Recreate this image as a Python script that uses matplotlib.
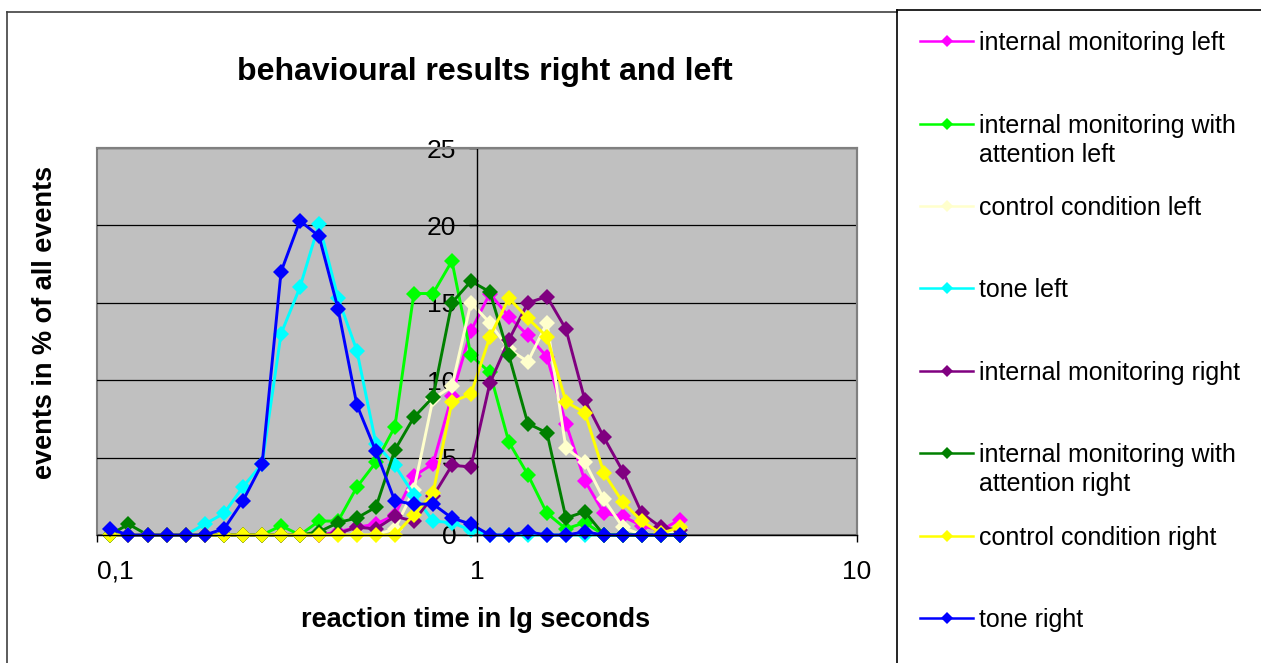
import matplotlib
matplotlib.use("Agg")
import matplotlib.pyplot as plt
from matplotlib.lines import Line2D
from matplotlib.patches import Rectangle
from matplotlib.ticker import NullLocator

plt.rcParams["font.family"] = ["Liberation Sans", "DejaVu Sans"]

W, H = 1261, 663

# reaction time bins (s), log spaced
reaction_time = [0.108, 0.121, 0.136, 0.153, 0.171, 0.192, 0.216, 0.242, 0.272, 0.305,
                 0.342, 0.384, 0.431, 0.483, 0.542, 0.608, 0.682, 0.766, 0.859, 0.964,
                 1.081, 1.213, 1.361, 1.528, 1.714, 1.923, 2.158, 2.421, 2.716, 3.048, 3.420]

im_left = [0, 0, 0, 0, 0, 0, 0, 0, 0, 0,
           0, 0, 0.2, 0.5, 0.7, 1.3, 3.8, 4.6, 9.0, 13.2,
           15.6, 14.1, 12.9, 11.5, 7.2, 3.5, 1.4, 1.2, 0.6, 0.3, 1.0]
ima_left = [0, 0, 0, 0, 0, 0, 0, 0, 0, 0.6,
            0, 0.9, 0.9, 3.1, 4.7, 7.0, 15.6, 15.6, 17.7, 11.6,
            10.5, 6.0, 3.9, 1.4, 0.4, 0.8, 0, 0, 0, 0, 0]
control_left = [0, 0, 0, 0, 0, 0, 0, 0, 0, 0,
                0, 0, 0, 0, 0, 0.4, 2.9, 8.8, 9.6, 15.0,
                13.7, 12.0, 11.2, 13.7, 5.6, 4.7, 2.3, 0.5, 0, 0, 0.4]
tone_left = [0, 0, 0, 0, 0, 0.7, 1.4, 3.1, 4.6, 13.0,
             16.0, 20.1, 15.3, 11.9, 5.9, 4.5, 2.6, 0.9, 0.8, 0.3,
             0, 0, 0, 0, 0, 0, 0, 0, 0, 0, 0]
im_right = [0, 0, 0, 0, 0, 0, 0, 0, 0, 0,
            0, 0, 0.1, 0.5, 0.4, 1.2, 0.9, 2.5, 4.5, 4.4,
            9.8, 12.6, 15.0, 15.4, 13.3, 8.7, 6.3, 4.1, 1.4, 0.5, 0.3]
ima_right = [0, 0.7, 0, 0, 0, 0, 0, 0, 0, 0,
             0, 0.2, 0.8, 1.1, 1.8, 5.5, 7.6, 8.9, 15.0, 16.4,
             15.7, 11.6, 7.2, 6.6, 1.1, 1.5, 0, 0, 0, 0, 0]
control_right = [0, 0, 0, 0, 0, 0, 0, 0, 0, 0,
                 0, 0, 0, 0, 0, 0, 1.3, 2.7, 8.6, 9.1,
                 12.8, 15.3, 14.0, 12.8, 8.6, 7.9, 4.0, 2.1, 0.9, 0.1, 0.5]
tone_right = [0.4, 0, 0, 0, 0, 0, 0.4, 2.2, 4.6, 17.0,
              20.3, 19.3, 14.6, 8.4, 5.4, 2.2, 2.0, 2.0, 1.1, 0.7,
              0, 0, 0.2, 0, 0, 0.2, 0, 0, 0, 0, 0]

series_names = ["internal monitoring left",
                "internal monitoring with\nattention left",
                "control condition left",
                "tone left",
                "internal monitoring right",
                "internal monitoring with\nattention right",
                "control condition right",
                "tone right"]
series_values = [im_left, ima_left, control_left, tone_left,
                 im_right, ima_right, control_right, tone_right]
series_colors = ["#FF00FF", "#00FF00", "#FFFFCC", "#00FFFF",
                 "#800080", "#008000", "#FFFF00", "#0000FF"]

y_ticks = [0, 5, 10, 15, 20, 25]
x_ticks = [0.1, 1, 10]
x_tick_labels = ["0,1", "1", "10"]

fig = plt.figure(figsize=(W / 100, H / 100), dpi=100)


def fx(px):
    return px / W


def fy(py):
    return 1 - py / H


ax = fig.add_axes([fx(97), fy(535), fx(857) - fx(97), fy(148) - fy(535)])
ax.set_facecolor("#C0C0C0")

for vals, col in zip(series_values, series_colors):
    ax.plot(reaction_time, vals, color=col, lw=2.1, marker="D", ms=8.3,
            mec=col, mew=0, clip_on=False)

ax.set_xscale("log")
ax.set_xlim(0.1, 10)
ax.set_ylim(0, 25)
ax.xaxis.set_minor_locator(NullLocator())
ax.set_xticks(x_ticks)
ax.set_xticklabels(x_tick_labels)
ax.set_yticks(y_ticks)
ax.yaxis.grid(True, color="black", lw=0.9)
ax.set_axisbelow(True)

# y axis crosses at x = 1
ax.spines["left"].set_position(("data", 1))
ax.spines["left"].set_color("black")
ax.spines["left"].set_linewidth(1.0)
ax.spines["bottom"].set_color("black")
ax.spines["bottom"].set_linewidth(1.0)
for s in ["top", "right"]:
    ax.spines[s].set_color("#808080")
    ax.spines[s].set_linewidth(1.5)
ax.add_patch(Rectangle((0, 0), 1, 1, transform=ax.transAxes, fill=False,
                       ec="#808080", lw=1.5, clip_on=False, zorder=0.5))

ax.tick_params(axis="y", direction="out", length=6, width=1, pad=9,
               labelsize=19)
ax.tick_params(axis="x", direction="out", length=5, width=1, pad=13,
               labelsize=19)
ax.get_xticklabels()[0].set_horizontalalignment("left")

fig.text(fx(485), fy(72), "behavioural results right and left",
         ha="center", va="center", fontsize=23, fontweight="bold")
fig.text(fx(476), fy(620), "reaction time in lg seconds",
         ha="center", va="center", fontsize=19.5, fontweight="bold")
fig.text(fx(45), fy(322), "events in % of all events", rotation=90,
         ha="center", va="center", fontsize=19.5, fontweight="bold")

# chart frame and legend box
frame = "#404040"
fig.add_artist(Line2D([fx(7), fx(897)], [fy(12), fy(12)], color=frame, lw=1.2))
fig.add_artist(Line2D([fx(7), fx(7)], [fy(12), 0], color=frame, lw=1.2))
fig.add_artist(Line2D([fx(897), fx(1261)], [fy(10), fy(10)], color="black", lw=1.2))
fig.add_artist(Line2D([fx(897), fx(897)], [fy(10), 0], color="black", lw=1.2))

legend_y = [41, 124, 206, 288, 371, 453, 536, 618]
for name, col, ly in zip(series_names, series_colors, legend_y):
    fig.add_artist(Line2D([fx(920), fx(973)], [fy(ly), fy(ly)], color=col, lw=1.8))
    fig.add_artist(Line2D([fx(947)], [fy(ly)], color=col, marker="D", ms=6, mew=0))
    fig.text(fx(979), fy(ly - 10), name, ha="left", va="top", fontsize=18,
             linespacing=1.25)

fig.savefig("out.png", dpi=100)
